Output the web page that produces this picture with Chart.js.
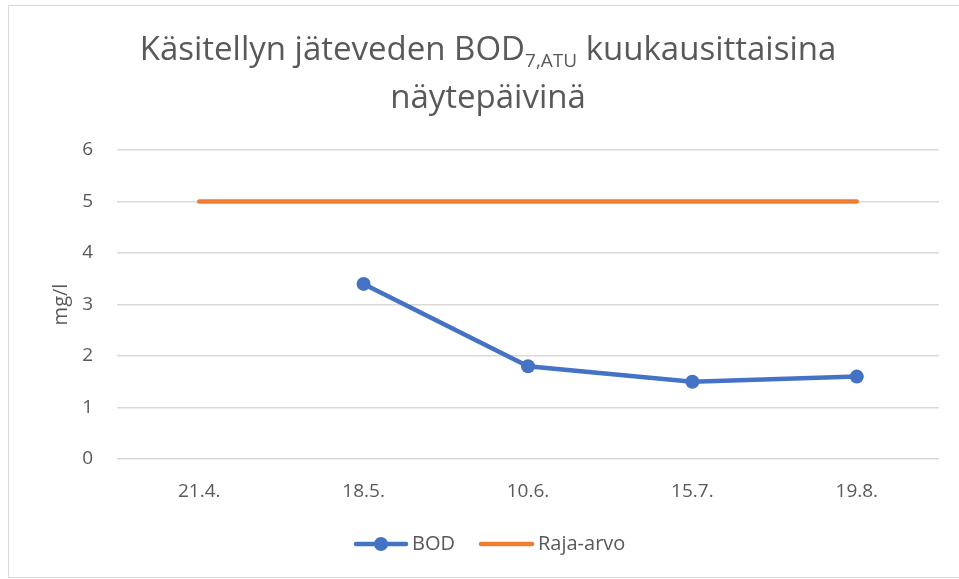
<!DOCTYPE html>
<html>
<head>
<meta charset="utf-8">
<script src="https://cdn.jsdelivr.net/npm/chart.js"></script>
<style>
  html, body { margin: 0; padding: 0; background: #fff; }
  #wrap { width: 959px; height: 579px; position: relative; }
</style>
</head>
<body>
<div id="wrap"><canvas id="chartBod"></canvas></div>
<script>
const labels = ['21.4.', '18.5.', '10.6.', '15.7.', '19.8.'];
const bod = [null, 3.4, 1.8, 1.5, 1.6];
const rajaArvo = [5, 5, 5, 5, 5];
const yTicks = [0, 1, 2, 3, 4, 5, 6];

const textColor = '#595959';
const fontFamily = '"Open Sans", "Liberation Sans", sans-serif';

// title with subscript + frame + legend, drawn by hand
const decor = {
  id: 'decor',
  afterDraw(chart) {
    const ctx = chart.ctx;
    ctx.save();
    // frame
    ctx.strokeStyle = '#d9d9d9';
    ctx.lineWidth = 1;
    ctx.strokeRect(8.5, 5.5, 960, 572);

    // title
    ctx.fillStyle = textColor;
    ctx.textBaseline = 'alphabetic';
    const big = '33px ' + fontFamily;
    const small = '19px ' + fontFamily;
    const parts = [
      ['Käsitellyn jäteveden BOD', big, 0],
      ['7,ATU', small, 7],
      [' kuukausittaisina', big, 0]
    ];
    let w = 0;
    parts.forEach(p => { ctx.font = p[1]; w += ctx.measureText(p[0]).width; });
    let x = 488 - w / 2;
    parts.forEach(p => {
      ctx.font = p[1];
      ctx.textAlign = 'left';
      ctx.fillText(p[0], x, 60 + p[2]);
      x += ctx.measureText(p[0]).width;
    });
    ctx.font = big;
    ctx.textAlign = 'center';
    ctx.fillText('näytepäivinä', 488, 108);

    // legend
    ctx.font = '20px ' + fontFamily;
    ctx.textAlign = 'left';
    ctx.textBaseline = 'middle';
    const ly = 544;
    ctx.lineCap = 'round';
    ctx.lineWidth = 4.5;
    ctx.strokeStyle = '#4472C4';
    ctx.beginPath(); ctx.moveTo(356, ly); ctx.lineTo(406, ly); ctx.stroke();
    ctx.fillStyle = '#4472C4';
    ctx.beginPath(); ctx.arc(381, ly, 7, 0, Math.PI * 2); ctx.fill();
    ctx.fillStyle = textColor;
    ctx.fillText('BOD', 412, ly);
    ctx.strokeStyle = '#ED7D31';
    ctx.beginPath(); ctx.moveTo(481, ly); ctx.lineTo(532, ly); ctx.stroke();
    ctx.fillText('Raja-arvo', 538, ly);
    ctx.restore();
  }
};

new Chart(document.getElementById('chartBod'), {
  type: 'line',
  data: {
    labels: labels,
    datasets: [
      {
        label: 'BOD',
        data: bod,
        borderColor: '#4472C4',
        backgroundColor: '#4472C4',
        borderWidth: 4.5,
        pointRadius: 7,
        pointHoverRadius: 7,
        pointBorderWidth: 0,
        tension: 0
      },
      {
        label: 'Raja-arvo',
        data: rajaArvo,
        borderColor: '#ED7D31',
        backgroundColor: '#ED7D31',
        borderWidth: 4.5,
        borderCapStyle: 'round',
        pointRadius: 0,
        tension: 0
      }
    ]
  },
  options: {
    responsive: true,
    maintainAspectRatio: false,
    animation: false,
    layout: { padding: { left: 8, right: 20, top: 150, bottom: 0 } },
    plugins: {
      legend: { display: false },
      tooltip: { enabled: false }
    },
    scales: {
      x: {
        offset: true,
        grid: { display: false, drawTicks: false },
        border: { display: false },
        ticks: { color: textColor, font: { family: fontFamily, size: 19 }, padding: 21 },
        afterFit(scale) { scale.height = 120; }
      },
      y: {
        min: 0,
        max: 6,
        afterBuildTicks(scale) { scale.ticks = yTicks.map(v => ({ value: v })); },
        grid: { color: '#d9d9d9', lineWidth: 1.5, drawTicks: false },
        border: { display: false },
        ticks: { color: textColor, font: { family: fontFamily, size: 19 }, padding: 24 },
        title: {
          display: true,
          text: 'mg/l',
          color: textColor,
          font: { family: fontFamily, size: 20 },
          padding: { top: 41, bottom: 0 }
        },
        afterFit(scale) { scale.width = 109; }
      }
    }
  },
  plugins: [decor]
});
</script>
</body>
</html>
